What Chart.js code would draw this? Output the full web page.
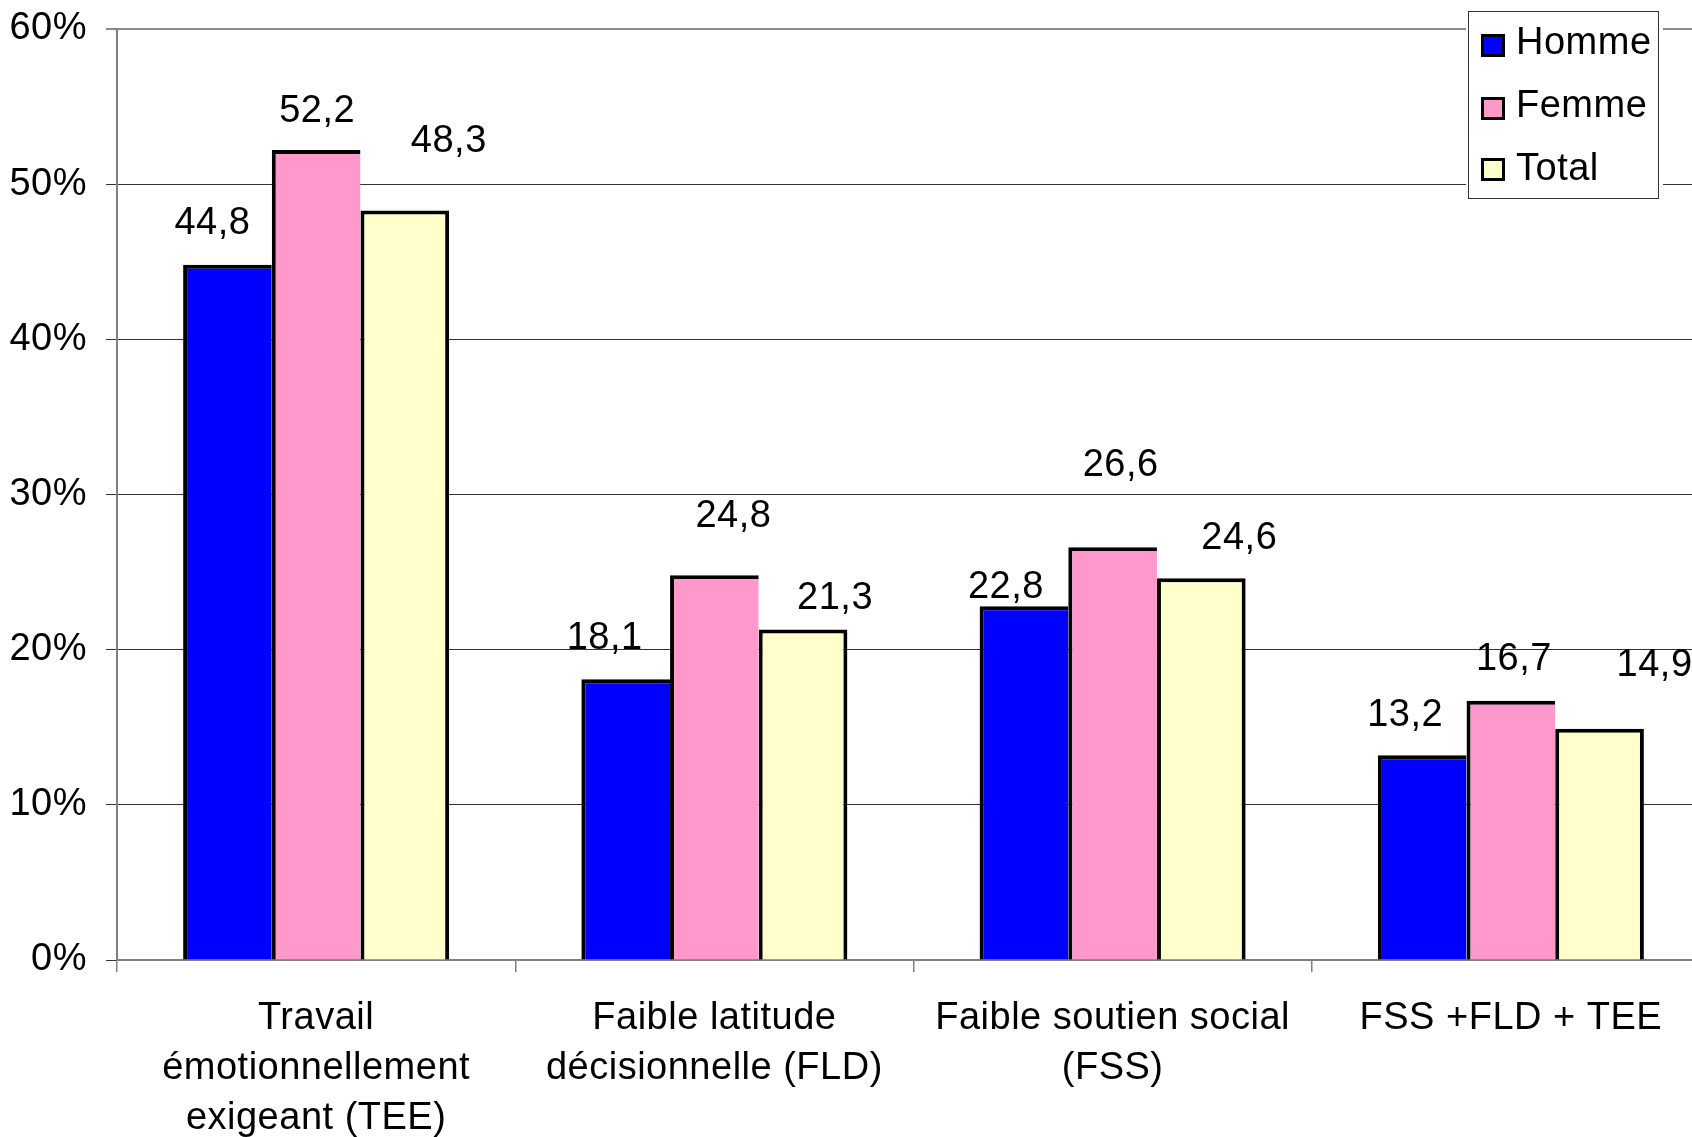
<!DOCTYPE html>
<html>
<head>
<meta charset="utf-8">
<script src="https://cdn.jsdelivr.net/npm/chart.js@4/dist/chart.umd.min.js"></script>
<style>
  html, body { margin: 0; padding: 0; background: #ffffff; overflow: hidden; width: 1692px; height: 1137px; }
  canvas { display: block; }
</style>
</head>
<body>
<canvas id="chart" width="1710" height="1137"></canvas>
<script>
// Categories (multi-line labels) and series values, in percent
const categories = [
  ["Travail", "émotionnellement", "exigeant (TEE)"],
  ["Faible latitude", "décisionnelle (FLD)"],
  ["Faible soutien social", "(FSS)"],
  "FSS +FLD + TEE"
];
const seriesNames = ["Homme", "Femme", "Total"];
const homme = [44.8, 18.1, 22.8, 13.2];
const femme = [52.2, 24.8, 26.6, 16.7];
const total = [48.3, 21.3, 24.6, 14.9];
const yMax = 60;
const yStep = 10;

const FONT = "'Liberation Sans', Arial, Helvetica, sans-serif";
const FSIZE = 38;
const colors = ["#0000ff", "#ff99cc", "#ffffcc"];

// Hand-placed offsets of each value label from the top centre of its bar (px)
const labelShift = [
  [[-15, -41], [-21, -41], [-18, -19], [-17, -40]],
  [[1, -39], [19, -59], [8, -82], [3, -41]],
  [[44, -69], [32, -31], [38, -40], [55, -63]]
];

const fmt = v => v.toFixed(1).replace(".", ",");

// slightly open letter spacing for all canvas text
const spacing = {
  id: "spacing",
  beforeInit(chart) { chart.ctx.letterSpacing = "0.5px"; },
  beforeUpdate(chart) { chart.ctx.letterSpacing = "0.5px"; },
  beforeDraw(chart) { chart.ctx.letterSpacing = "0.5px"; }
};

const valueLabels = {
  id: "valueLabels",
  afterDatasetsDraw(chart) {
    const ctx = chart.ctx;
    ctx.save();
    ctx.font = FSIZE + "px " + FONT;
    ctx.fillStyle = "#000";
    ctx.textAlign = "center";
    ctx.textBaseline = "middle";
    chart.data.datasets.forEach((ds, di) => {
      const meta = chart.getDatasetMeta(di);
      meta.data.forEach((bar, i) => {
        const s = labelShift[di][i];
        ctx.fillText(fmt(ds.data[i]), bar.x + s[0], bar.y + s[1]);
      });
    });
    ctx.restore();
  }
};

const boxLegend = {
  id: "boxLegend",
  afterDraw(chart) {
    const ctx = chart.ctx;
    ctx.save();
    // white box covering the gridlines, with a thin border
    ctx.fillStyle = "#ffffff";
    ctx.fillRect(1466, 9, 197, 193);
    ctx.strokeStyle = "#333333";
    ctx.lineWidth = 1;
    ctx.strokeRect(1468.5, 11.5, 190, 187);
    ctx.font = FSIZE + "px " + FONT;
    ctx.textAlign = "left";
    ctx.textBaseline = "middle";
    const rows = [42, 105, 168];
    const boxTop = [34, 97, 158];
    chart.data.datasets.forEach((ds, i) => {
      const cy = rows[i];
      // swatch: black frame with the series colour inside
      ctx.fillStyle = "#000";
      ctx.fillRect(1481, boxTop[i], 24, 23);
      ctx.fillStyle = ds.backgroundColor;
      ctx.fillRect(1484, boxTop[i] + 3, 18, 17);
      ctx.fillStyle = "#000";
      ctx.fillText(ds.label, 1516, cy + 2);
    });
    ctx.restore();
  }
};

const mkSet = (i, data, last) => ({
  label: seriesNames[i],
  data: data,
  backgroundColor: colors[i],
  borderColor: "#000000",
  borderWidth: last ? { top: 4, left: 4, right: 4, bottom: 0 } : { top: 4, left: 4, right: 0, bottom: 0 },
  borderSkipped: false,
  inflateAmount: 0,
  categoryPercentage: 0.668,
  barPercentage: 1.0
});

new Chart(document.getElementById("chart"), {
  type: "bar",
  data: {
    labels: categories,
    datasets: [mkSet(0, homme, false), mkSet(1, femme, false), mkSet(2, total, true)]
  },
  plugins: [spacing, valueLabels, boxLegend],
  options: {
    responsive: false,
    animation: false,
    devicePixelRatio: 1,
    layout: { padding: { top: 29, left: 0, right: 0, bottom: 0 } },
    plugins: { legend: { display: false }, tooltip: { enabled: false } },
    scales: {
      x: {
        afterFit(scale) {
          scale.height = 177;
          scale.paddingLeft = 0; scale.paddingRight = 0;
          scale.paddingTop = 0; scale.paddingBottom = 0;
        },
        grid: {
          display: true,
          drawOnChartArea: false,
          drawTicks: true,
          tickLength: 12,
          color: "#808080",
          lineWidth: 1.5
        },
        border: { color: "#808080", width: 2 },
        ticks: {
          color: "#000",
          font: { family: FONT, size: FSIZE, lineHeight: 1.31 },
          padding: 22,
          maxRotation: 0,
          autoSkip: false
        }
      },
      y: {
        min: 0,
        max: yMax,
        afterFit(scale) {
          scale.width = 117;
          scale.paddingTop = 0; scale.paddingBottom = 0;
          scale.paddingLeft = 0; scale.paddingRight = 0;
        },
        grid: {
          color: c => (c.tick && c.tick.value === yMax) ? "#8a8a8a" : "#333333",
          lineWidth: c => (c.tick && c.tick.value === yMax) ? 2 : 1,
          tickLength: 11,
          drawTicks: true
        },
        border: { color: "#808080", width: 2 },
        ticks: {
          stepSize: yStep,
          color: "#000",
          padding: 19,
          font: { family: FONT, size: FSIZE },
          callback: v => v + "%"
        }
      }
    }
  }
});
</script>
</body>
</html>
